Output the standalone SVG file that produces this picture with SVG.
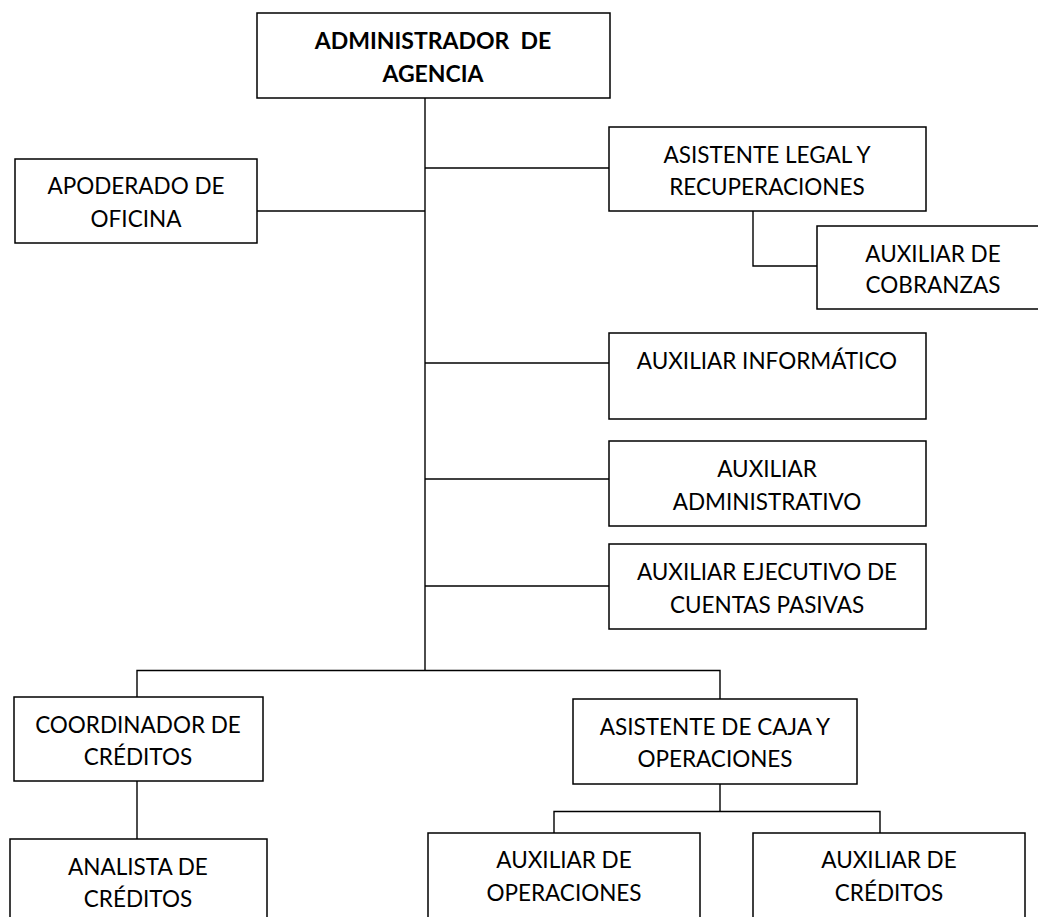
<svg xmlns="http://www.w3.org/2000/svg" width="1038" height="917" viewBox="0 0 1038 917">
<style>
.box{fill:#fff;stroke:#000;stroke-width:1.5}
.ln{fill:none;stroke:#000;stroke-width:1.4}
text{font-family:Lato,"Liberation Sans",sans-serif;font-size:22.5px;fill:#000;text-anchor:middle}
.b{font-weight:bold;font-size:23px;white-space:pre}
</style>
<rect width="1038" height="917" fill="#fff"/>
<g id="connectors">
<path class="ln" d="M425,98 V670.5"/>
<path class="ln" d="M257,211 H425"/>
<path class="ln" d="M425,168 H609"/>
<path class="ln" d="M753,211 V266 H817"/>
<path class="ln" d="M425,363 H609"/>
<path class="ln" d="M425,479 H609"/>
<path class="ln" d="M425,586 H609"/>
<path class="ln" d="M137,697 V670.5 H720 V699"/>
<path class="ln" d="M137,781 V839"/>
<path class="ln" d="M720,784 V811.5"/>
<path class="ln" d="M554,833 V811.5 H880 V833"/>
</g>
<g id="admin"><rect class="box" x="257" y="13" width="353" height="85"/><text class="b" x="433" y="49">ADMINISTRADOR  DE</text><text class="b" x="433" y="82">AGENCIA</text></g>
<g id="apoderado"><rect class="box" x="15" y="159" width="242" height="84"/><text x="136" y="194">APODERADO DE</text><text x="136" y="227">OFICINA</text></g>
<g id="legal"><rect class="box" x="609" y="127" width="317" height="84"/><text x="767" y="163">ASISTENTE LEGAL Y</text><text x="767" y="195">RECUPERACIONES</text></g>
<g id="cobranzas"><rect class="box" x="817" y="226" width="232" height="83"/><text x="933" y="262">AUXILIAR DE</text><text x="933" y="293">COBRANZAS</text></g>
<g id="informatico"><rect class="box" x="609" y="333" width="317" height="86"/><text x="767" y="369">AUXILIAR INFORMÁTICO</text></g>
<g id="administrativo"><rect class="box" x="609" y="441" width="317" height="85"/><text x="767" y="477">AUXILIAR</text><text x="767" y="510">ADMINISTRATIVO</text></g>
<g id="ejecutivo"><rect class="box" x="609" y="544" width="317" height="85"/><text x="767" y="580">AUXILIAR EJECUTIVO DE</text><text x="767" y="613">CUENTAS PASIVAS</text></g>
<g id="coordinador"><rect class="box" x="14" y="697" width="249" height="84"/><text x="138" y="733">COORDINADOR DE</text><text x="138" y="765">CRÉDITOS</text></g>
<g id="analista"><rect class="box" x="10" y="839" width="257" height="90"/><text x="138" y="875">ANALISTA DE</text><text x="138" y="907">CRÉDITOS</text></g>
<g id="caja"><rect class="box" x="573" y="699" width="284" height="85"/><text x="715" y="735">ASISTENTE DE CAJA Y</text><text x="715" y="767">OPERACIONES</text></g>
<g id="operaciones"><rect class="box" x="428" y="833" width="272" height="96"/><text x="564" y="868">AUXILIAR DE</text><text x="564" y="901">OPERACIONES</text></g>
<g id="creditos"><rect class="box" x="753" y="833" width="272" height="96"/><text x="889" y="868">AUXILIAR DE</text><text x="889" y="901">CRÉDITOS</text></g>
</svg>
